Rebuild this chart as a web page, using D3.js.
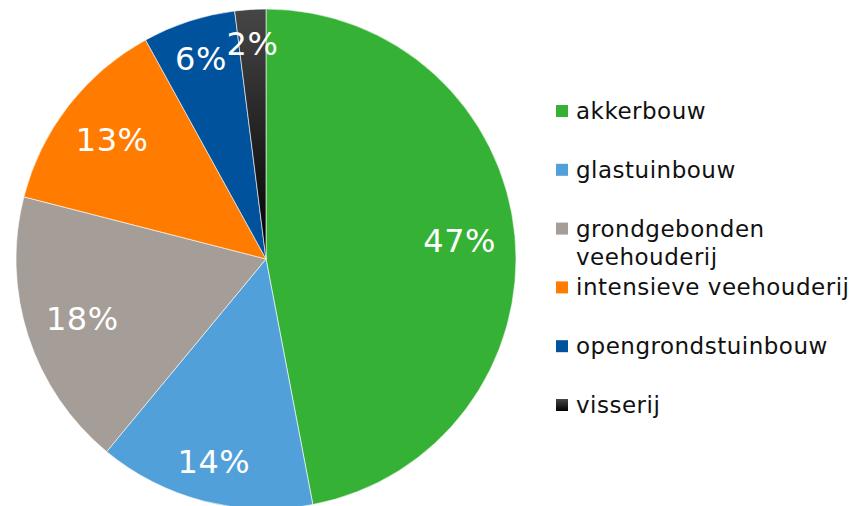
<!DOCTYPE html>
<html>
<head>
<meta charset="utf-8">
<script src="https://cdn.jsdelivr.net/npm/d3@7"></script>
<style>
  body { margin: 0; background: #fff; }
  svg { display: block; font-family: "DejaVu Sans", Verdana, sans-serif; }
</style>
</head>
<body>
<div id="chart"></div>
<script>
let categories = ["akkerbouw", "glastuinbouw", "grondgebonden veehouderij", "intensieve veehouderij", "opengrondstuinbouw", "visserij"];
let legendLines = [["akkerbouw"], ["glastuinbouw"], ["grondgebonden", "veehouderij"], ["intensieve veehouderij"], ["opengrondstuinbouw"], ["visserij"]];
let shares = [47, 14, 18, 13, 6, 2];
let colors = ["#35b235", "#52a0d9", "#a59d97", "#ff7c00", "#00529c", "url(#vissGrad)"];

function go(){
    let width = 852,
        height = 506;

    let svg = d3.select("#chart")
        .append("svg")
        .attr("width", width)
        .attr("height", height);

    let defs = svg.append("defs");
    let grad = defs.append("linearGradient")
        .attr("id", "vissGrad")
        .attr("x1", 0).attr("y1", 0)
        .attr("x2", 0).attr("y2", 1);
    grad.append("stop").attr("offset", "0%").attr("stop-color", "#464646");
    grad.append("stop").attr("offset", "100%").attr("stop-color", "#000");

    let cx = 266, cy = 259, radius = 250;

    let data = categories.map(function(c, i){
        return {name: c, value: shares[i], color: colors[i], lines: legendLines[i]};
    });

    let pie = d3.pie()
        .sort(null)
        .value(function(d){ return d.value; });

    let arc = d3.arc().innerRadius(0).outerRadius(radius);

    let g = svg.append("g")
        .attr("transform", "translate(" + cx + "," + cy + ")");

    let arcs = pie(data);

    g.selectAll(".slice")
        .data(arcs)
        .enter().append("path")
        .attr("class", "slice")
        .attr("d", arc)
        .attr("fill", function(d){ return d.data.color; })
        .attr("stroke", "#fff")
        .attr("stroke-width", 0.6);

    // labels placed "inside end": box pushed in from the rim
    let inner = radius - 18;
    g.selectAll(".pct")
        .data(arcs)
        .enter().append("text")
        .attr("class", "pct")
        .attr("text-anchor", "middle")
        .attr("dy", "0.36em")
        .attr("font-size", 32)
        .attr("letter-spacing", 0.5)
        .attr("fill", "#fff")
        .text(function(d){ return d.data.value + "%"; })
        .each(function(d){
            let bb = this.getBBox();
            let a = (d.startAngle + d.endAngle) / 2;
            let sx = Math.sin(a), sy = -Math.cos(a);
            let dist = inner - (Math.abs(sx) * bb.width / 2 + Math.abs(sy) * 14);
            d3.select(this).attr("transform", "translate(" + (sx * dist) + "," + (sy * dist) + ")");
        });

    // legend
    let legendY = d3.scaleLinear().domain([0, 5]).range([111, 405]);

    let items = svg.selectAll(".legend")
        .data(data)
        .enter().append("g")
        .attr("class", "legend")
        .attr("transform", function(d, i){ return "translate(556," + legendY(i) + ")"; });

    items.append("rect")
        .attr("x", 0)
        .attr("y", -6)
        .attr("width", 12)
        .attr("height", 12)
        .attr("fill", function(d){ return d.color; });

    items.append("text")
        .attr("x", 20)
        .attr("y", 8)
        .attr("font-size", 23)
        .attr("letter-spacing", 0.5)
        .attr("fill", "#111")
        .selectAll("tspan")
        .data(function(d){ return d.lines; })
        .enter().append("tspan")
        .attr("x", 20)
        .attr("dy", function(d, i){ return i === 0 ? 0 : 28; })
        .text(function(d){ return d; });
}
go();
</script>
</body>
</html>
